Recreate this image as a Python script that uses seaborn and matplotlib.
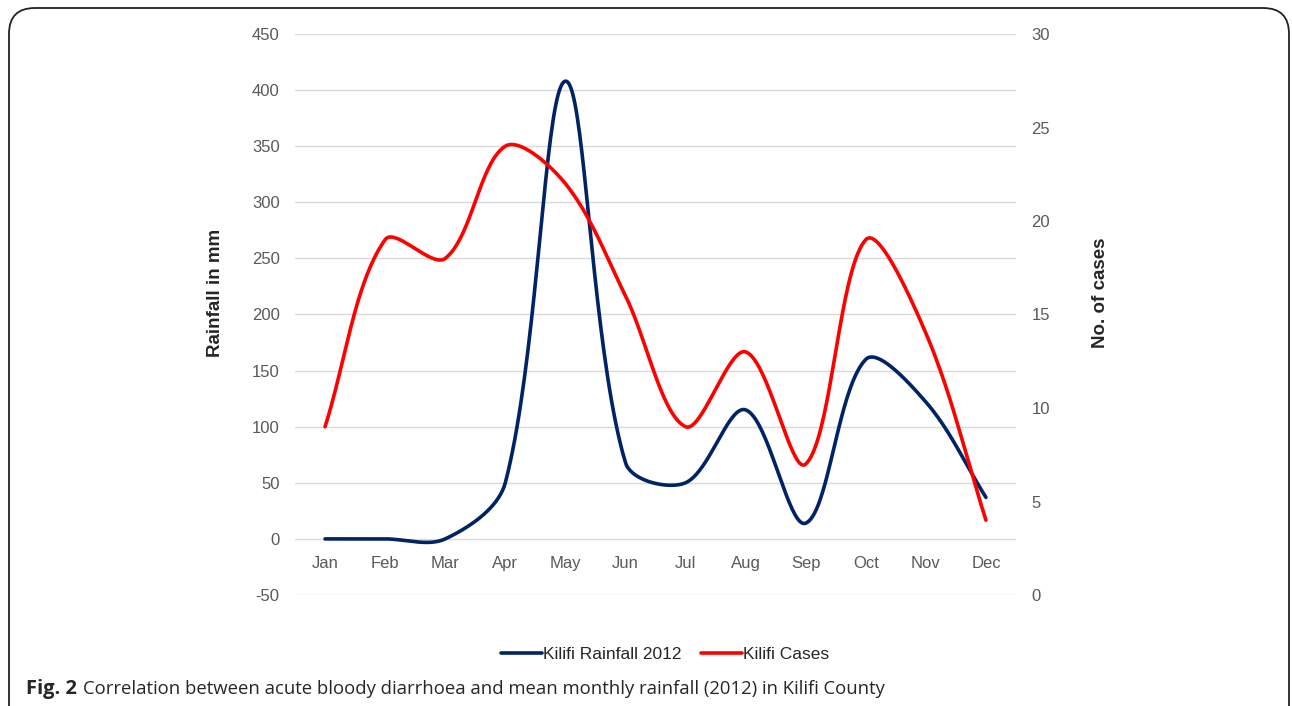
import numpy as np
import matplotlib
matplotlib.use("Agg")
import matplotlib.pyplot as plt
import seaborn as sns
from matplotlib.patches import FancyBboxPatch
from matplotlib.lines import Line2D

# data
months = ['Jan', 'Feb', 'Mar', 'Apr', 'May', 'Jun', 'Jul', 'Aug', 'Sep', 'Oct', 'Nov', 'Dec']
rainfall = [0, 0, 0, 50, 408, 68, 50, 115, 14, 160, 122, 37]
cases = [9, 19, 18, 24, 22, 16, 9, 13, 7, 19, 14, 4]

rain_color = '#002366'
case_color = '#ff0000'
grid_color = '#d9d9d9'
tick_color = '#595959'


def smooth(vals, yscale, n=40):
    # excel-like smoothed line: bezier through the points, control arms
    # weighted by chord length in screen space
    p = np.asarray(vals, dtype=float)
    pts = np.column_stack([np.arange(len(p)) * 60.0, p * yscale])
    ext = np.vstack([pts[0], pts, pts[-1]])
    out = []
    for i in range(len(pts) - 1):
        p0, p1, p2, p3 = ext[i], ext[i + 1], ext[i + 2], ext[i + 3]
        d01 = np.hypot(*(p1 - p0))
        d12 = np.hypot(*(p2 - p1))
        d23 = np.hypot(*(p3 - p2))
        f1 = d12 / (d01 + d12) if d01 + d12 > 0 else 0.5
        f2 = d12 / (d12 + d23) if d12 + d23 > 0 else 0.5
        c1 = p1 + (p2 - p0) * f1 / 3
        c2 = p2 - (p3 - p1) * f2 / 3
        t = np.linspace(0, 1, n)[:, None]
        seg = ((1 - t) ** 3) * p1 + 3 * ((1 - t) ** 2) * t * c1 + 3 * (1 - t) * t ** 2 * c2 + t ** 3 * p2
        out.append(seg if i == 0 else seg[1:])
    out = np.vstack(out)
    return out[:, 0] / 60.0, out[:, 1] / yscale


sns.set_style("white")
plt.rcParams['font.family'] = ['Liberation Sans', 'DejaVu Sans']
plt.rcParams['axes.unicode_minus'] = False

fig = plt.figure(figsize=(12.92, 7.06), dpi=100)
ax = fig.add_axes([295 / 1292, 111 / 706, 721 / 1292, 561 / 706])
ax2 = ax.twinx()

# frame around the figure
box = FancyBboxPatch((9 / 1292, -0.05), (1289 - 9) / 1292, (706 - 8) / 706 + 0.05,
                     boxstyle="round,pad=0,rounding_size=0.02", transform=fig.transFigure,
                     fill=False, edgecolor='#222222', linewidth=1.3, zorder=0,
                     mutation_aspect=1292 / 706)
fig.patches.append(box)

xr, yr = smooth(rainfall, 561 / 500)
xc, yc = smooth(cases, 561 / 30)
sns.lineplot(x=xr, y=yr, ax=ax, color=rain_color, linewidth=2.6, sort=False, estimator=None, zorder=3)
sns.lineplot(x=xc, y=yc, ax=ax2, color=case_color, linewidth=2.6, sort=False, estimator=None, zorder=3)

ax.set_xlim(-0.5, 11.5)
ax.set_ylim(-50, 450)
ax2.set_ylim(0, 30)
ax.set_yticks(np.arange(-50, 451, 50))
ax2.set_yticks(np.arange(0, 31, 5))
ax.set_xticks(range(len(months)))
ax.set_xticklabels(months)

ax.grid(axis='y', color=grid_color, linewidth=1)
ax.set_axisbelow(True)
for a in (ax, ax2):
    for s in a.spines.values():
        s.set_visible(False)
ax.spines['bottom'].set_position(('data', 0))
ax.tick_params(axis='x', length=0, pad=12, labelsize=12, labelcolor=tick_color)
ax.tick_params(axis='y', length=0, pad=11, labelsize=12, labelcolor=tick_color)
ax2.tick_params(axis='y', length=0, pad=11, labelsize=12, labelcolor=tick_color)

ax.set_ylabel('Rainfall in mm', fontsize=13.5, fontweight='bold', labelpad=20)
ax2.set_ylabel('No. of cases', fontsize=13.5, fontweight='bold', labelpad=30)
ax.yaxis.label.set_y((595 - 293) / 561)
ax2.yaxis.label.set_y((595 - 293) / 561)
ax.set_xlabel('')
ax2.set_zorder(ax.get_zorder() + 1)
ax2.patch.set_visible(False)

handles = [Line2D([], [], color=rain_color, linewidth=2.6), Line2D([], [], color=case_color, linewidth=2.6)]
fig.legend(handles, ['Kilifi Rainfall 2012', 'Kilifi Cases'], loc='center', bbox_to_anchor=(665 / 1292, 1 - 654 / 706),
           ncol=2, frameon=False, handlelength=2.4, handletextpad=0.05, columnspacing=1.1,
           prop={'family': ['Liberation Sans Narrow', 'Liberation Sans'], 'size': 12.5})

t1 = fig.text(26 / 1292, 1 - 689 / 706, 'Fig. 2', fontsize=14.5, fontweight='bold', family=['Open Sans'],
              va='baseline', ha='left')
t1.set_va('center')
fig.text(83 / 1292, 1 - 689 / 706, 'Correlation between acute bloody diarrhoea and mean monthly rainfall (2012) in Kilifi County',
         fontsize=13.3, family=['Open Sans'], va='center', ha='left')

fig.savefig('out.png', dpi=100)
